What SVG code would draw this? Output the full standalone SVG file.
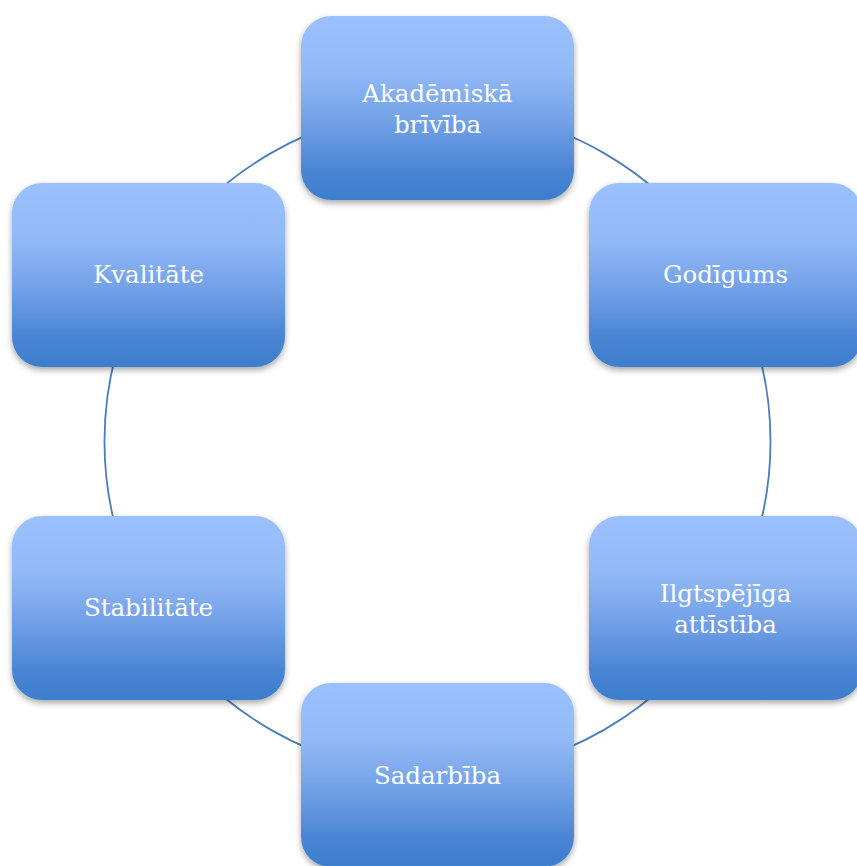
<svg xmlns="http://www.w3.org/2000/svg" width="857" height="866" viewBox="0 0 857 866">
<defs>
<linearGradient id="g" x1="0" y1="0" x2="0" y2="1">
<stop offset="0" stop-color="#9ac0fd"/>
<stop offset="0.3" stop-color="#93baf7"/>
<stop offset="0.6" stop-color="#6f9ee6"/>
<stop offset="0.85" stop-color="#4884d3"/>
<stop offset="1" stop-color="#3d7ecd"/>
</linearGradient>
<filter id="sh" x="-10%" y="-10%" width="120%" height="125%">
<feDropShadow dx="0" dy="3" stdDeviation="3" flood-color="#000" flood-opacity="0.35"/>
</filter>
</defs>
<style>
.box{fill:url(#g);filter:url(#sh)}
.lbl{font-family:"DejaVu Serif","Liberation Serif",serif;font-size:24.5px;fill:#fff;text-anchor:middle}
.arc{fill:none;stroke:#4a7ebb;stroke-width:1.8}
</style>
<rect width="857" height="866" fill="#fff"/>
<g id="connectors">
<path class="arc" d="M437.5,108.5 A333,333 0 0 1 725.9,275"/>
<path class="arc" d="M725.9,275 A333,333 0 0 1 725.9,608"/>
<path class="arc" d="M725.9,608 A333,333 0 0 1 437.5,774.5"/>
<path class="arc" d="M437.5,774.5 A333,333 0 0 1 149.1,608"/>
<path class="arc" d="M149.1,608 A333,333 0 0 1 149.1,275"/>
<path class="arc" d="M149.1,275 A333,333 0 0 1 437.5,108.5"/>
</g>
<g id="n1"><rect class="box" x="301" y="16" width="273" height="184" rx="30"/><text class="lbl" x="437.5" y="102">Akadēmiskā</text><text class="lbl" x="437.5" y="133">brīvība</text></g>
<g id="n2"><rect class="box" x="589" y="183" width="273" height="184" rx="30"/><text class="lbl" x="725.5" y="283">Godīgums</text></g>
<g id="n3"><rect class="box" x="589" y="516" width="273" height="184" rx="30"/><text class="lbl" x="725.5" y="601.5">Ilgtspējīga</text><text class="lbl" x="725.5" y="632.5">attīstība</text></g>
<g id="n4"><rect class="box" x="301" y="683" width="273" height="184" rx="30"/><text class="lbl" x="437.5" y="784">Sadarbība</text></g>
<g id="n5"><rect class="box" x="12" y="516" width="273" height="184" rx="30"/><text class="lbl" x="148.5" y="616">Stabilitāte</text></g>
<g id="n6"><rect class="box" x="12" y="183" width="273" height="184" rx="30"/><text class="lbl" x="148.5" y="283">Kvalitāte</text></g>
</svg>
